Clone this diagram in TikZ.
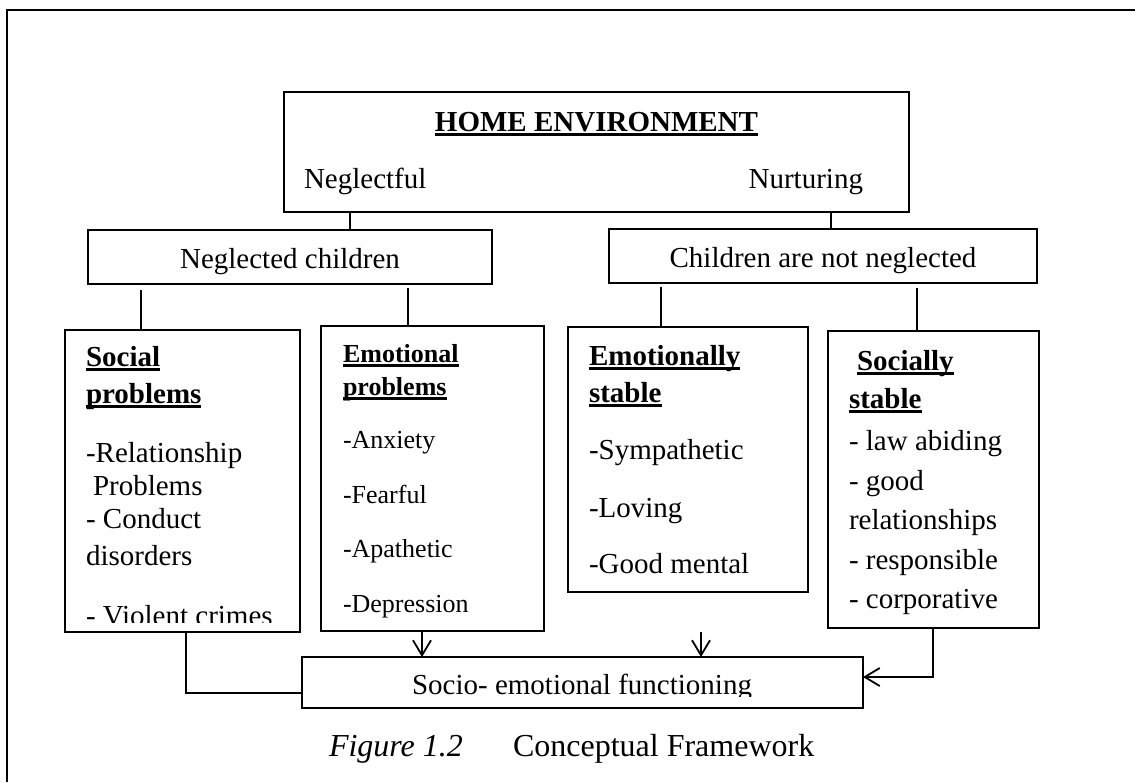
\documentclass[tikz,border=0pt]{standalone}
\usepackage{fontspec}
\setmainfont{Liberation Serif}
\usetikzlibrary{arrows.meta}
\newcommand{\ulb}[1]{\setbox0\hbox{#1}\rlap{\vrule height -1.5pt depth 4.5pt width \wd0}\box0}
\tikzset{
  box/.style={draw, line width=2pt, rectangle, inner sep=0pt, outer sep=0pt, anchor=north west},
  t/.style={inner sep=0pt, outer sep=0pt, anchor=base west, font=\fontsize{29}{33}\selectfont},
  ts/.style={t, font=\fontsize{26}{30}\selectfont},
  conn/.style={line width=1.8pt},
  arr/.style={conn, -{Straight Barb[length=15pt,width=18pt]}},
}
\begin{document}
\begin{tikzpicture}[x=1pt,y=-1pt]
\useasboundingbox (0,0) rectangle (1135,782);
% outer frame
\draw[line width=2pt] (7,782) -- (7,10) -- (1135,10);

% boxes
\node[box, minimum width=625, minimum height=120] (home) at (284,92) {};
\node[box, minimum width=404, minimum height=54] (negc) at (88,230) {};
\node[box, minimum width=428, minimum height=54] (nnc) at (609,229) {};
\node[box, minimum width=235, minimum height=302] (soc) at (65,330) {};
\node[box, minimum width=223, minimum height=305] (emo) at (321,326) {};
\node[box, minimum width=240, minimum height=265] (emst) at (568,327) {};
\node[box, minimum width=211, minimum height=297] (sost) at (828,331) {};
\node[box, minimum width=561, minimum height=51] (socio) at (302,657) {};

% home text
\node[t, anchor=base] (homet) at (596.5,131) {\bfseries\ulb{HOME ENVIRONMENT}};
\node[t] (negl) at (304,188) {Neglectful};
\node[t, anchor=base east] (nurt) at (863,188) {Nurturing};

\node[t, anchor=base] (negct) at (290,268) {Neglected children};
\node[t, anchor=base] (nnct) at (823,267) {Children are not neglected};

% social problems
\node[t] (s1) at (86,366) {\bfseries\ulb{Social}};
\node[t] (s2) at (86,403) {\bfseries\ulb{problems}};
\node[t] (s3) at (86,462) {-Relationship};
\node[t] (s4) at (93,495) {Problems};
\node[t] (s5) at (86,528) {- Conduct};
\node[t] (s6) at (86,565) {disorders};
\begin{scope}
\clip (66,595) rectangle (299,622.5);
\node[t] (s7) at (86,625) {- Violent crimes};
\end{scope}

% emotional problems
\node[ts] (e1) at (343,362) {\bfseries\ulb{Emotional}};
\node[ts] (e2) at (343,395) {\bfseries\ulb{problems}};
\node[ts] (e3) at (343,448) {-Anxiety};
\node[ts] (e4) at (343,503) {-Fearful};
\node[ts] (e5) at (343,557) {-Apathetic};
\node[ts] (e6) at (343,612) {-Depression};

% emotionally stable
\node[t] (m1) at (589,365) {\bfseries\ulb{Emotionally}};
\node[t] (m2) at (589,402) {\bfseries\ulb{stable}};
\node[t] (m3) at (589,459) {-Sympathetic};
\node[t] (m4) at (589,517) {-Loving};
\node[t] (m5) at (589,573) {-Good mental};

% socially stable
\node[t] (o1) at (857,370) {\bfseries\ulb{Socially}};
\node[t] (o2) at (849,408) {\bfseries\ulb{stable}};
\node[t] (o3) at (849,450) {- law abiding};
\node[t] (o4) at (849,490) {- good};
\node[t] (o5) at (849,529) {relationships};
\node[t] (o6) at (849,569) {- responsible};
\node[t] (o7) at (849,608) {- corporative};

% socio-emotional
\begin{scope}
\clip (303,658) rectangle (862,696.5);
\node[t, anchor=base] (sociot) at (582,694) {Socio- emotional functioning};
\end{scope}

% caption
\node[t, font=\fontsize{32}{36}\selectfont\itshape] (fig) at (329,756) {Figure 1.2};
\node[t, font=\fontsize{32}{36}\selectfont] (figt) at (513,756) {Conceptual Framework};

% connector x positions
\coordinate (xa) at (350,0);
\coordinate (xb) at (831,0);
\coordinate (xc) at (141,290);
\coordinate (xd) at (408,288);
\coordinate (xe) at (661,287);
\coordinate (xf) at (917,288);
\coordinate (xg) at (422,0);
\coordinate (fa) at (701,632);
\coordinate (kl) at (186,693);
\coordinate (kr) at (933,677);

\draw[conn] (home.south -| xa) -- (negc.north -| xa);
\draw[conn] (home.south -| xb) -- (nnc.north -| xb);
\draw[conn] (xc) -- (soc.north -| xc);
\draw[conn] (xd) -- (emo.north -| xd);
\draw[conn] (xe) -- (emst.north -| xe);
\draw[conn] (xf) -- (sost.north -| xf);

\draw[conn] (soc.south -| kl) -- (kl) -- (socio.west |- kl);
\draw[arr] (emo.south -| xg) -- (socio.north -| xg);
\draw[arr] (fa) -- (socio.north -| fa);
\draw[arr] (sost.south -| kr) -- (kr) -- (socio.east |- kr);
\end{tikzpicture}
\end{document}
